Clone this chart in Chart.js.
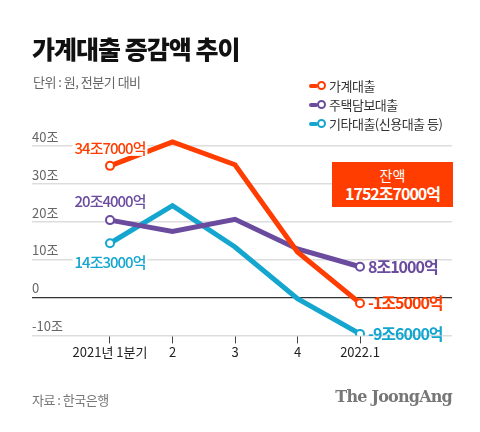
<!DOCTYPE html>
<html>
<head>
<meta charset="utf-8">
<script src="https://cdn.jsdelivr.net/npm/chart.js@4"></script>
<style>
  body { margin: 0; background: #fff; font-family: "Noto Sans CJK KR", "Noto Sans", sans-serif; }
  #wrap { position: relative; width: 480px; height: 432px; overflow: hidden; }
  #chart { position: absolute; left: 0; top: 0; }
  .title { position: absolute; left: 32px; top: 30px; font-size: 25px; font-weight: 900; color: #111; letter-spacing: -1px; }
  .unit { position: absolute; left: 33px; top: 72px; font-size: 13px; color: #666; letter-spacing: -0.5px; }
  .legend { position: absolute; left: 309px; top: 76px; font-size: 13px; color: #333; letter-spacing: -0.5px; }
  .legend div { height: 19px; line-height: 19px; display: flex; align-items: center; }
  .legend i { display: inline-block; width: 9px; height: 4px; border-radius: 2px; margin-right: -1px; }
  .legend b { display: inline-block; width: 5px; height: 5px; border-radius: 50%; border: 2px solid; background: #fff; margin-right: 3px; }
  .box { position: absolute; left: 332px; top: 162px; width: 121px; height: 45px; background: #ff3d00; color: #fff; text-align: center; }
  .box .a { font-size: 14px; line-height: 15px; margin-top: 6px; }
  .box .b { font-size: 16px; font-weight: 700; line-height: 20px; letter-spacing: -1px; }
  .src { position: absolute; left: 32px; top: 390px; font-size: 13px; color: #777; letter-spacing: -0.5px; }
  .brand { position: absolute; right: 28px; top: 387px; font-family: "DejaVu Serif", "Liberation Serif", serif; font-weight: 700; font-size: 16px; color: #777; letter-spacing: -0.8px; }
</style>
</head>
<body>
<div id="wrap">
  <canvas id="chart" width="480" height="432"></canvas>
  <div class="title">가계대출 증감액 추이</div>
  <div class="unit">단위 : 원, 전분기 대비</div>
  <div class="legend" id="legend"></div>
  <div class="box"><div class="a">잔액</div><div class="b">1752조7000억</div></div>
  <div class="src">자료 : 한국은행</div>
  <div class="brand">The JoongAng</div>
</div>
<script>
// ---------- DATA ----------
const quarters = ['2021년 1분기', '2', '3', '4', '2022.1'];
const household = [34.7, 41.0, 35.0, 12.0, -1.5];
const mortgage = [20.4, 17.4, 20.6, 12.8, 8.1];
const otherLoans = [14.3, 24.2, 13.3, -0.3, -9.6];
const yTicks = [-10, 0, 10, 20, 30, 40];
const yTickLabels = ['-10조', '0', '10조', '20조', '30조', '40조'];

const seriesNames = ['가계대출', '주택담보대출', '기타대출(신용대출 등)'];
const colors = ['#ff3d00', '#6a4b9e', '#15a6cf'];
const firstLabels = ['34조7000억', '20조4000억', '14조3000억'];
const lastLabels = ['-1조5000억', '8조1000억', '-9조6000억'];

// ---------- Legend ----------
const legend = document.getElementById('legend');
seriesNames.forEach((n, i) => {
  const d = document.createElement('div');
  d.innerHTML = `<i style="background:${colors[i]}"></i><b style="border-color:${colors[i]}"></b>${n}`;
  legend.appendChild(d);
});

const toPts = arr => arr.map((v, i) => ({ x: i, y: v }));
const ptRadius = ctx => (ctx.dataIndex === 0 || ctx.dataIndex === quarters.length - 1) ? 4 : 0;

const mkSet = (data, i) => ({
  label: seriesNames[i],
  data: toPts(data),
  order: i,
  borderColor: colors[i],
  backgroundColor: '#fff',
  borderWidth: 5,
  pointRadius: ptRadius,
  pointBorderWidth: 2,
  pointBackgroundColor: '#fff',
  pointBorderColor: colors[i],
  tension: 0
});

// value labels at first / last points
const valueLabels = {
  id: 'valueLabels',
  afterDatasetsDraw(chart) {
    const { ctx } = chart;
    const x = chart.scales.x, y = chart.scales.y;
    const firstOffsets = [-18, -19, 19];
    ctx.save();
    ctx.textBaseline = 'middle';
    chart.data.datasets.forEach((ds, i) => {
      const p0 = ds.data[0];
      ctx.font = '500 15px "Noto Sans CJK KR"';
      ctx.letterSpacing = '-1px';
      const t = firstLabels[i];
      const w = ctx.measureText(t).width;
      const cx = x.getPixelForValue(p0.x);
      const cy = y.getPixelForValue(p0.y) + firstOffsets[i];
      ctx.fillStyle = '#fff';
      ctx.fillRect(cx - w / 2 - 2, cy - 8, w + 4, 16);
      ctx.fillStyle = colors[i];
      ctx.textAlign = 'center';
      ctx.fillText(t, cx, cy);

      const pl = ds.data[ds.data.length - 1];
      ctx.font = 'bold 16px "Noto Sans CJK KR"';
      ctx.textAlign = 'left';
      ctx.fillText(lastLabels[i], x.getPixelForValue(pl.x) + 8, y.getPixelForValue(pl.y));
    });
    ctx.restore();
  }
};

new Chart(document.getElementById('chart'), {
  type: 'line',
  data: { datasets: [mkSet(household, 0), mkSet(mortgage, 1), mkSet(otherLoans, 2)] },
  options: {
    animation: false,
    responsive: false,
    layout: { padding: { left: 32, right: 28, top: 123, bottom: 71 } },
    plugins: { legend: { display: false }, tooltip: { enabled: false } },
    scales: {
      x: {
        type: 'linear',
        min: -1.248, max: 5.472,
        afterBuildTicks: s => { s.ticks = quarters.map((q, i) => ({ value: i })); },
        ticks: {
          callback: v => quarters[v],
          color: '#222',
          font: { family: 'Noto Sans CJK KR', size: 13 },
          padding: 1,
          maxRotation: 0,
          autoSkip: false
        },
        grid: { drawOnChartArea: false, drawTicks: true, tickLength: 8, color: '#444', lineWidth: 1 },
        border: { display: false }
      },
      y: {
        min: -10, max: 46,
        afterBuildTicks: s => { s.ticks = yTicks.map(v => ({ value: v })); },
        ticks: {
          mirror: true,
          padding: 0,
          labelOffset: -9,
          callback: v => yTickLabels[yTicks.indexOf(v)],
          color: '#666',
          font: { family: 'Noto Sans CJK KR', size: 13 }
        },
        grid: {
          drawTicks: false,
          color: c => c.tick && c.tick.value === 0 ? '#333' : '#ddd',
          lineWidth: c => c.tick && c.tick.value === 0 ? 1.2 : 1.5
        },
        border: { display: false }
      }
    }
  },
  plugins: [valueLabels]
});
</script>
</body>
</html>
